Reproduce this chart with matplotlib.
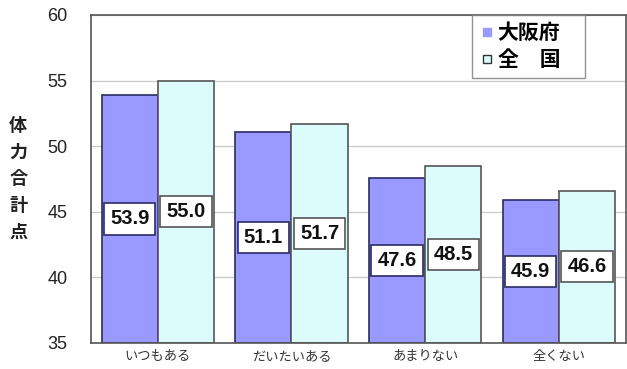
import matplotlib
matplotlib.use("Agg")
import matplotlib.pyplot as plt
import numpy as np
from matplotlib.lines import Line2D

plt.rcParams['font.family'] = ['Noto Sans CJK JP', 'DejaVu Sans']

categories = ["いつもある", "だいたいある", "あまりない", "全くない"]
osaka = [53.9, 51.1, 47.6, 45.9]
national = [55.0, 51.7, 48.5, 46.6]
series_names = ["大阪府", "全　国"]
yticks = [35, 40, 45, 50, 55, 60]

fig = plt.figure(figsize=(6.27, 3.69), dpi=100)
ax = fig.add_axes([0.145, 0.0705, 0.853, 0.889])

x = np.arange(len(categories))
w = 0.42
base = 35
c_osaka, e_osaka = "#9999ff", "#2b2b66"
c_nat, e_nat = "#dcfcfc", "#555555"

ax.bar(x - w/2, np.array(osaka) - base, w, bottom=base, color=c_osaka,
       edgecolor=e_osaka, linewidth=1.2, zorder=2)
ax.bar(x + w/2, np.array(national) - base, w, bottom=base, color=c_nat,
       edgecolor=e_nat, linewidth=1.2, zorder=2)

for xs, vals, ec in ((x - w/2, osaka, e_osaka), (x + w/2, national, e_nat)):
    for xi, v in zip(xs, vals):
        ax.text(xi, (v + base) / 2, f"{v:.1f}", ha="center", va="center",
                fontsize=14.5, fontweight="bold", family=["Liberation Sans"],
                color="#111111", zorder=4,
                bbox=dict(boxstyle="square,pad=0.3", fc="white", ec=ec, lw=1.2))

ax.set_ylim(35, 60)
ax.set_xlim(-0.5, len(categories) - 0.5)
ax.set_yticks(yticks)
ax.set_yticklabels([str(t) for t in yticks], fontsize=13,
                   family=["Liberation Sans"], color="#222222")
ax.yaxis.set_tick_params(length=0, pad=17)
ax.set_xticks(x)
ax.set_xticklabels(categories, fontsize=9.5, color="#333333")
ax.xaxis.set_tick_params(length=0, pad=5)
ax.grid(axis="y", color="#c8c8c8", linewidth=0.9, zorder=0)
for s in ax.spines.values():
    s.set_color("#555555")
    s.set_linewidth(1.2)

fig.text(0.029, 0.515, "体\n力\n合\n計\n点", ha="center", va="center",
         fontsize=13, fontweight="bold", linespacing=1.5, color="#222222")

handles = [Line2D([], [], linestyle="none", marker="s", markersize=6,
                  markerfacecolor=c_osaka, markeredgecolor=c_osaka),
           Line2D([], [], linestyle="none", marker="s", markersize=6,
                  markerfacecolor=c_nat, markeredgecolor="#333333")]
leg = ax.legend(handles, series_names, loc="upper left",
                bbox_to_anchor=(0.712, 0.0, 0.211, 1.0), mode="expand",
                prop={"size": 15, "weight": "bold"}, frameon=True,
                fancybox=False, edgecolor="#777777", handlelength=0.8,
                handletextpad=0.1, borderpad=0.35,
                labelspacing=0.3, borderaxespad=0)
leg.get_frame().set_linewidth(1.0)

fig.savefig("out.png", dpi=100)
